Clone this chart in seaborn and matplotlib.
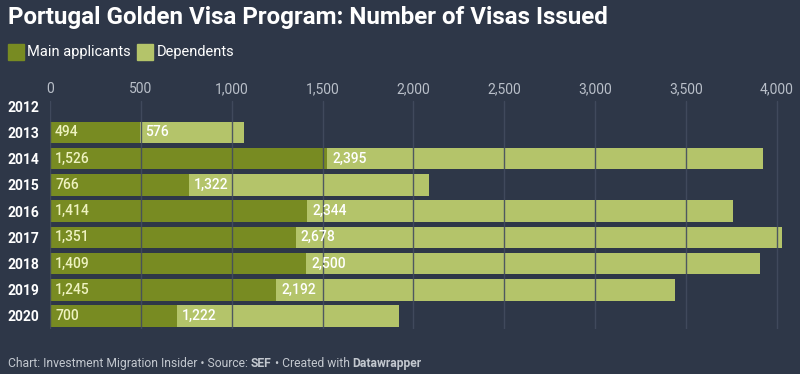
import matplotlib
matplotlib.use("Agg")
import matplotlib.pyplot as plt
import seaborn as sns
import pandas as pd

# Data
years = ["2012", "2013", "2014", "2015", "2016", "2017", "2018", "2019", "2020"]
main_applicants = [0, 494, 1526, 766, 1414, 1351, 1409, 1245, 700]
dependents = [0, 576, 2395, 1322, 2344, 2678, 2500, 2192, 1222]
x_ticks = [0, 500, 1000, 1500, 2000, 2500, 3000, 3500, 4000]

BG = "#2e3748"
MAIN = "#788b22"
DEP = "#b4c46a"
GRID = "#434c5f"


def plot_visas():
    df = pd.DataFrame({"year": years, "main": main_applicants, "dep": dependents})
    df["total"] = df["main"] + df["dep"]

    sns.set_style("dark")
    plt.rcParams["font.family"] = ["Roboto", "DejaVu Sans"]

    fig = plt.figure(figsize=(8, 3.74), dpi=100, facecolor=BG)
    ax = fig.add_axes([0.0625, 0.12, 0.92, 0.628])
    ax.set_facecolor(BG)

    sns.barplot(data=df, x="total", y="year", color=DEP, width=0.82,
                saturation=1, ax=ax, orient="h")
    sns.barplot(data=df, x="main", y="year", color=MAIN, width=0.82,
                saturation=1, ax=ax, orient="h")
    for p in ax.patches:
        p.set_edgecolor("none")

    ax.set_xlim(0, 4050)
    ax.set_ylim(8.5, -0.45)
    ax.set_xticks(x_ticks)
    ax.set_xticklabels([f"{t:,}" for t in x_ticks])
    ax.xaxis.tick_top()
    ax.tick_params(axis="x", length=0, pad=-1.5, labelsize=10, labelcolor="#b9bfc9")
    ax.tick_params(axis="y", length=0, pad=8, labelsize=10, labelcolor="white")
    for lbl in ax.get_yticklabels():
        lbl.set_fontweight("bold")
    ax.set_xlabel("")
    ax.set_ylabel("")
    for s in ax.spines.values():
        s.set_visible(False)

    # grid lines drawn above the bars, like the original
    for t in x_ticks:
        ax.axvline(t, ymax=0.97, color=GRID, lw=1, zorder=5, alpha=0.9)
    ax.grid(False)

    # value labels
    for i, (m, d) in enumerate(zip(main_applicants, dependents)):
        if m > 0:
            ax.text(28, i, f"{m:,}", va="center", ha="left", fontsize=10,
                    color="#eef2c0", fontweight="medium", zorder=6)
        if d > 0:
            ax.text(m + 28, i, f"{d:,}", va="center", ha="left", fontsize=10,
                    color="white", fontweight="medium", zorder=6)

    # title
    fig.text(0.01, 0.953, "Portugal Golden Visa Program: Number of Visas Issued",
             fontsize=17.4, fontweight="bold", color="white", va="center", ha="left")

    # legend
    fig.patches.append(plt.Rectangle((0.01, 0.84), 0.02, 0.042, transform=fig.transFigure,
                                     color=MAIN, figure=fig))
    fig.text(0.034, 0.86, "Main applicants", fontsize=10.5, color="white", va="center")
    fig.patches.append(plt.Rectangle((0.171, 0.84), 0.02, 0.042, transform=fig.transFigure,
                                     color=DEP, figure=fig))
    fig.text(0.196, 0.86, "Dependents", fontsize=10.5, color="white", va="center")

    # footer with bold pieces
    pieces = [("Chart: Investment Migration Insider \u2022 Source: ", "normal"),
              ("SEF", "bold"),
              (" \u2022 Created with ", "normal"),
              ("Datawrapper", "bold")]
    fig.canvas.draw()
    renderer = fig.canvas.get_renderer()
    x = 0.01
    for txt, w in pieces:
        t = fig.text(x, 0.027, txt, fontsize=8.7, color="#c3c8cf", fontweight=w,
                     va="center", ha="left")
        bb = t.get_window_extent(renderer)
        x += bb.width / fig.bbox.width

    fig.savefig("out.png", dpi=100, facecolor=BG)


def main():
    plot_visas()


if __name__ == "__main__":
    main()
